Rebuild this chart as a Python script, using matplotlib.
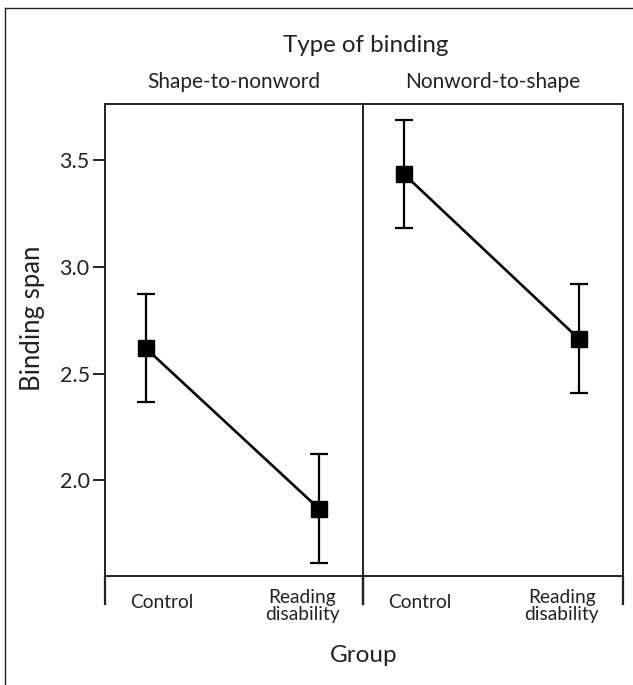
"""Binding span by group and type of binding"""
import matplotlib.pyplot as plt
from matplotlib.lines import Line2D

plt.rcParams['font.family'] = ['Lato', 'DejaVu Sans']

# データ
groups = ['Control', 'Reading\ndisability']
panels = ['Shape-to-nonword', 'Nonword-to-shape']
means = {
    'Shape-to-nonword': [2.62, 1.867],
    'Nonword-to-shape': [3.436, 2.665],
}
errors = {
    'Shape-to-nonword': [0.253, 0.255],
    'Nonword-to-shape': [0.254, 0.254],
}
yticks = [2.0, 2.5, 3.0, 3.5]

W, H = 633, 685
fig = plt.figure(figsize=(W / 100, H / 100), dpi=100)

ink = '#222222'
top_px, bot_px = 104, 576
ax_bottom = 1 - bot_px / H
ax_height = (bot_px - top_px) / H
ax1 = fig.add_axes([105 / W, ax_bottom, 258 / W, ax_height])
ax2 = fig.add_axes([363 / W, ax_bottom, 260 / W, ax_height], sharey=ax1)
ax2.patch.set_visible(False)

hpx = bot_px - top_px
for ax, name in zip([ax1, ax2], panels):
    x = range(len(groups))
    ax.errorbar(x, means[name], yerr=errors[name], color='black', lw=1.9,
                marker='s', markersize=11.5, capsize=6.5, capthick=1.6,
                elinewidth=1.6, zorder=3)
    ax.set_xlim(-0.235, 1.255)
    ax.set_ylim(1.551, 3.765)
    ax.set_xticks([])
    for sp in ax.spines.values():
        sp.set_color(ink)
        sp.set_linewidth(1.4)
    ax.text(0.5, 1 + 22 / hpx, name, transform=ax.transAxes, ha='center',
            va='center', fontsize=15, color=ink)
    # 群ラベル
    ax.text(0.22, -27 / hpx, groups[0], transform=ax.transAxes, ha='center',
            va='center', fontsize=13.8, color=ink)
    ax.text(0.765, -30 / hpx, groups[1], transform=ax.transAxes, ha='center',
            va='center', fontsize=13.8, color=ink, linespacing=0.95)
    # 下側の区切り線
    for xx in [0, 1]:
        ax.plot([xx, xx], [0, -28 / hpx], transform=ax.transAxes,
                color=ink, lw=1.6, clip_on=False)

ax2.spines['left'].set_visible(False)
ax2.tick_params(left=False, labelleft=False)

ax1.set_yticks(yticks)
ax1.set_yticklabels([f'{v:.1f}' for v in yticks])
ax1.tick_params(axis='y', direction='out', length=9, width=1.4,
                color=ink, labelcolor=ink, labelsize=15.5, pad=2)

fig.text(366 / W, 1 - 45 / H, 'Type of binding', ha='center', va='center',
         fontsize=17.4, color=ink)
fig.text(364 / W, 1 - 656 / H, 'Group', ha='center', va='center',
         fontsize=17.5, color=ink)
fig.text(33 / W, 1 - 318 / H, 'Binding span', ha='center', va='center',
         rotation=90, fontsize=18.5, color=ink)

# 外枠
fig.add_artist(Line2D([5 / W, 5 / W], [0, 1 - 8 / H], color=ink, lw=1.0))
fig.add_artist(Line2D([5 / W, 1], [1 - 8 / H, 1 - 8 / H], color=ink, lw=1.0))

plt.savefig('out.png', dpi=100)
